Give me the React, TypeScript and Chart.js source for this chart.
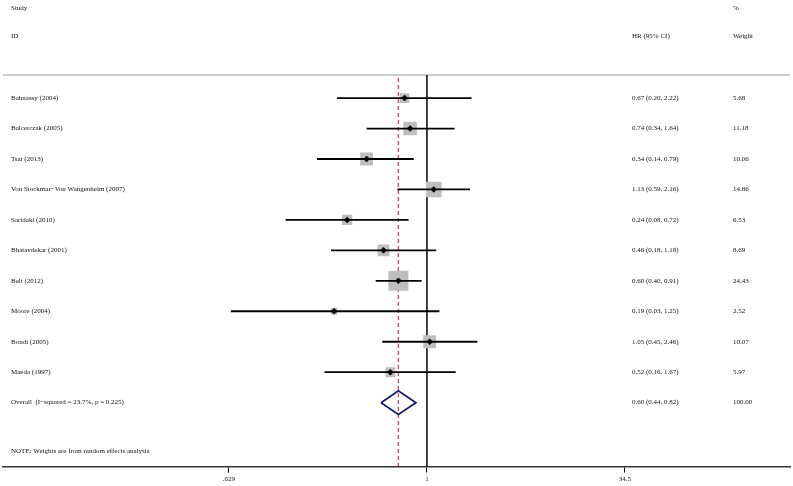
import React, { useEffect, useRef } from "react";
import { Chart, registerables } from "chart.js";

Chart.register(...registerables);

const studies = [
  "Bahnassy (2004)",
  "Balcerczak (2005)",
  "Tsai (2013)",
  "Von Stockmar\u2212Von Wangenheim (2007)",
  "Saridaki (2010)",
  "Bhatavdekar (2001)",
  "Belt (2012)",
  "Moore (2004)",
  "Bondi (2005)",
  "Maeda (1997)",
];
const hr = [0.67, 0.74, 0.34, 1.13, 0.24, 0.46, 0.6, 0.19, 1.05, 0.52];
const lower = [0.2, 0.34, 0.14, 0.59, 0.08, 0.18, 0.4, 0.03, 0.45, 0.16];
const upper = [2.22, 1.64, 0.79, 2.16, 0.72, 1.18, 0.91, 1.25, 2.46, 1.67];
const weights = [5.68, 11.18, 10.06, 14.86, 6.53, 8.69, 24.43, 2.52, 10.07, 5.97];

const overallLabel = "Overall  (I\u2212squared = 23.7%, p = 0.225)";
const overallHr = 0.6;
const overallLower = 0.44;
const overallUpper = 0.82;
const overallWeight = 100.0;

const tickValues = [0.029, 1, 34.5];
const tickLabels = [".029", "1", "34.5"];

const noteText = "NOTE: Weights are from random effects analysis";

const FONT = '7px "Liberation Serif", "Times New Roman", serif';

const fmt = (v: number) => v.toFixed(2);

export default function App() {
  const ref = useRef<HTMLCanvasElement | null>(null);

  useEffect(() => {
    const canvas = ref.current;
    if (!canvas) return;
    const n = studies.length;
    const overallRow = n;
    const yTop = -3.22;
    const yBottom = 12.1;
    const sepRow = -0.757;

    const ciSets = studies.map((s, i) => ({
      type: "line" as const,
      label: s + " CI",
      data: [
        { x: lower[i], y: i },
        { x: upper[i], y: i },
      ],
      borderColor: "#000",
      borderWidth: 1.8,
      pointRadius: 0,
      showLine: true,
      order: 1,
    }));

    const squareSet = {
      type: "scatter" as const,
      label: "weights",
      data: hr.map((v, i) => ({ x: v, y: i })),
      pointStyle: "rect",
      pointRadius: weights.map((w) => (4.05 * Math.sqrt(w)) / Math.SQRT2),
      backgroundColor: "rgb(190,190,190)",
      borderWidth: 0,
      order: 2,
    };

    const dotSet = {
      type: "scatter" as const,
      label: "estimates",
      data: hr.map((v, i) => ({ x: v, y: i })),
      pointStyle: "rectRot",
      pointRadius: 3,
      backgroundColor: "#000",
      borderColor: "#000",
      borderWidth: 0.5,
      order: 0,
    };

    const h = 0.39;
    const diamondSet = {
      type: "line" as const,
      label: "overall",
      data: [
        { x: overallLower, y: overallRow },
        { x: overallHr, y: overallRow - h },
        { x: overallUpper, y: overallRow },
        { x: overallHr, y: overallRow + h },
        { x: overallLower, y: overallRow },
      ],
      borderColor: "rgb(26,26,110)",
      borderWidth: 1.8,
      pointRadius: 0,
      tension: 0,
      order: 0,
    };

    const nullLine = {
      type: "line" as const,
      label: "null",
      data: [
        { x: 1, y: sepRow },
        { x: 1, y: yBottom },
      ],
      borderColor: "#000",
      borderWidth: 1.5,
      pointRadius: 0,
      order: 4,
    };

    const overallLine = {
      type: "line" as const,
      label: "overall line",
      data: [
        { x: overallHr, y: sepRow + 0.1 },
        { x: overallHr, y: yBottom },
      ],
      borderColor: "rgb(160,100,112)",
      borderWidth: 1.4,
      borderDash: [4, 3],
      pointRadius: 0,
      order: 3,
    };

    const textPlugin = {
      id: "forestText",
      beforeDatasetsDraw(chart: any) {
        const ctx = chart.ctx;
        const ys = chart.scales.y;
        const area = chart.chartArea;
        ctx.save();
        ctx.strokeStyle = "rgb(190,190,190)";
        ctx.lineWidth = 1.5;
        const sy = ys.getPixelForValue(sepRow);
        ctx.beginPath();
        ctx.moveTo(area.left, sy);
        ctx.lineTo(area.right, sy);
        ctx.stroke();
        ctx.restore();
      },
      afterDatasetsDraw(chart: any) {
        const ctx = chart.ctx;
        const ys = chart.scales.y;
        ctx.save();
        ctx.font = FONT;
        ctx.fillStyle = "#111";
        ctx.textBaseline = "middle";
        ctx.textAlign = "left";
        const xLabel = 11;
        const xHr = 632;
        const xW = 733;
        const h1 = ys.getPixelForValue(-2.96);
        const h2 = ys.getPixelForValue(-2.04);
        ctx.fillText("Study", xLabel, h1);
        ctx.fillText("%", xW, h1);
        ctx.fillText("ID", xLabel, h2);
        ctx.fillText("HR (95% CI)", xHr, h2);
        ctx.fillText("Weight", xW, h2);
        studies.forEach((s, i) => {
          const y = ys.getPixelForValue(i);
          ctx.fillText(s, xLabel, y);
          ctx.fillText(`${fmt(hr[i])} (${fmt(lower[i])}, ${fmt(upper[i])})`, xHr, y);
          ctx.fillText(fmt(weights[i]), xW, y);
        });
        const oy = ys.getPixelForValue(overallRow);
        ctx.fillText(overallLabel, xLabel, oy);
        ctx.fillText(`${fmt(overallHr)} (${fmt(overallLower)}, ${fmt(overallUpper)})`, xHr, oy);
        ctx.fillText(fmt(overallWeight), xW, oy);
        ctx.fillText(noteText, xLabel, ys.getPixelForValue(11.58));
        ctx.restore();
      },
    };

    const chart = new Chart(canvas, {
      type: "scatter",
      data: {
        datasets: [
          dotSet,
          diamondSet,
          ...ciSets,
          squareSet,
          overallLine,
          nullLine,
        ] as any,
      },
      options: {
        animation: false,
        responsive: false,
        devicePixelRatio: 1,
        layout: { autoPadding: false, padding: { left: 3, right: 3, top: 0, bottom: 1 } },
        plugins: {
          legend: { display: false },
          tooltip: { enabled: false },
        },
        scales: {
          x: {
            type: "logarithmic",
            min: 0.00051,
            max: 660,
            afterBuildTicks: (scale: any) => {
              scale.ticks = tickValues.map((v) => ({ value: v }));
            },
            ticks: {
              autoSkip: false,
              maxRotation: 0,
              color: "#222",
              font: { family: '"Liberation Serif", serif', size: 7 },
              padding: 2,
              callback: (value: any) => {
                const idx = tickValues.findIndex((t) => Math.abs(t - Number(value)) < 1e-9);
                return idx >= 0 ? tickLabels[idx] : "";
              },
            },
            grid: {
              display: true,
              drawOnChartArea: false,
              drawTicks: true,
              tickLength: 6,
              color: "#000",
              lineWidth: 1,
            },
            border: { display: true, color: "#333", width: 1.5 },
          },
          y: {
            type: "linear",
            reverse: true,
            min: yTop,
            max: yBottom,
            display: false,
          },
        },
      },
      plugins: [textPlugin],
    } as any);

    return () => chart.destroy();
  }, []);

  return (
    <div style={{ position: "fixed", left: 0, top: 0, width: 793, height: 486, background: "#fff" }}>
      <canvas ref={ref} width={793} height={486} style={{ display: "block" }} />
    </div>
  );
}
